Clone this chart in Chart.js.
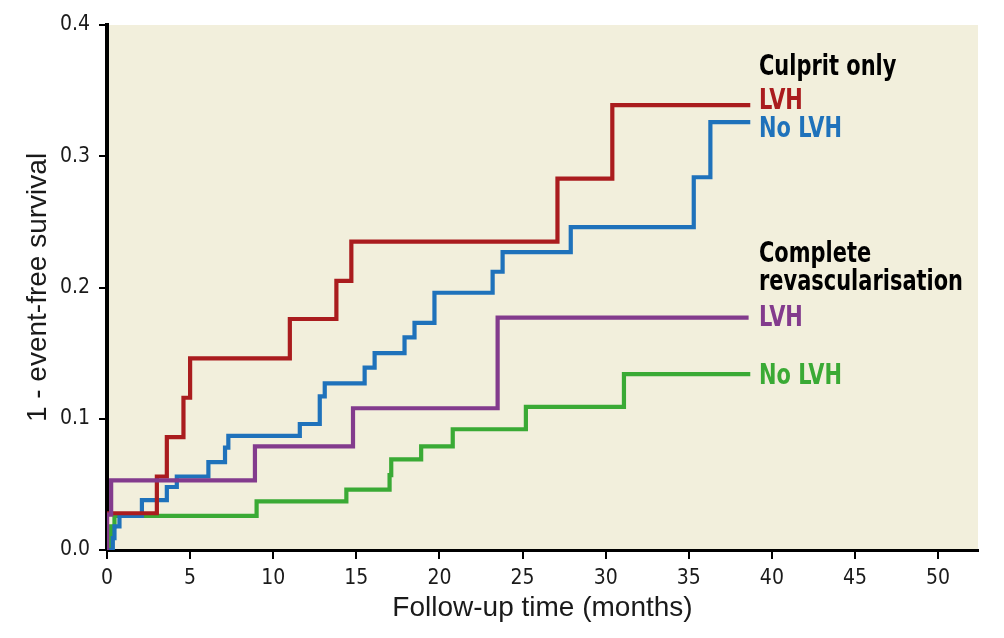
<!DOCTYPE html>
<html>
<head>
<meta charset="utf-8">
<title>1 - event-free survival by LVH and revascularisation strategy</title>
<script src="https://cdn.jsdelivr.net/npm/chart.js@4.4.0/dist/chart.umd.min.js"></script>
<style>
  html, body { margin: 0; padding: 0; background: #fff; }
  #wrap { width: 1004px; height: 638px; position: relative; }
</style>
</head>
<body>
<div id="wrap"><canvas id="kmChart"></canvas></div>
<script>
// Step curves: follow-up time (months) vs 1 - event-free survival.
// Each pair (time, value) is the level reached at that time.

const culpritLvhTime = [0, 0, 3.0, 3.6, 4.6, 5.0, 11.0, 13.8, 14.7, 27.1, 30.4, 38.7];
const culpritLvhRisk = [0, 0.028, 0.056, 0.086, 0.116, 0.146, 0.176, 0.205, 0.235, 0.283, 0.339, 0.339];

const culpritNoLvhTime = [0, 0.35, 0.45, 0.75, 2.1, 3.6, 4.2, 6.1, 7.1, 7.3, 11.6, 12.8, 13.1, 15.5, 16.1, 17.9, 18.5, 19.7, 23.2, 23.8, 27.9, 35.3, 36.3, 38.7];
const culpritNoLvhRisk = [0, 0.009, 0.018, 0.026, 0.038, 0.048, 0.056, 0.067, 0.078, 0.087, 0.096, 0.117, 0.127, 0.139, 0.150, 0.162, 0.173, 0.196, 0.212, 0.227, 0.246, 0.284, 0.326, 0.326];

const completeLvhTime = [0, 0, 0.25, 8.9, 14.8, 23.5, 38.6];
const completeLvhRisk = [0, 0.027, 0.053, 0.079, 0.108, 0.177, 0.177];

const completeNoLvhTime = [0, 0.25, 0.45, 9.0, 14.4, 17.0, 17.1, 18.9, 20.8, 25.2, 31.1, 38.7];
const completeNoLvhRisk = [0, 0.018, 0.026, 0.037, 0.046, 0.057, 0.069, 0.079, 0.092, 0.109, 0.134, 0.134];

const xTickStep = 5;
const xMax = 52.4;
const yTicks = [0, 0.1, 0.2, 0.3, 0.4];

const colors = {
  red: '#aa1c1e',
  blue: '#1f72bb',
  purple: '#833b8d',
  green: '#3aaa35'
};

function toPoints(times, values) {
  return times.map((t, i) => ({ x: t, y: values[i] }));
}

function stepSet(label, times, values, color) {
  return {
    label: label,
    data: toPoints(times, values),
    borderColor: color,
    backgroundColor: color,
    borderWidth: 4.2,
    stepped: 'before',
    pointRadius: 0,
    pointHoverRadius: 0,
    fill: false
  };
}

// beige plot background
const plotBackground = {
  id: 'plotBackground',
  beforeDraw(chart) {
    const { ctx, chartArea } = chart;
    ctx.save();
    ctx.fillStyle = '#f2efdc';
    ctx.fillRect(chartArea.left, chartArea.top, chartArea.right - chartArea.left, chartArea.bottom - chartArea.top);
    ctx.restore();
  }
};

// group headings and curve names to the right of the curves
const sideLabels = [
  { text: 'Culprit only', color: '#000000', y: 75 },
  { text: 'LVH', color: colors.red, y: 109 },
  { text: 'No LVH', color: colors.blue, y: 137 },
  { text: 'Complete', color: '#000000', y: 262 },
  { text: 'revascularisation', color: '#000000', y: 290 },
  { text: 'LVH', color: colors.purple, y: 326 },
  { text: 'No LVH', color: colors.green, y: 384 }
];

const curveLabels = {
  id: 'curveLabels',
  afterDatasetsDraw(chart) {
    const ctx = chart.ctx;
    ctx.save();
    ctx.font = 'bold 28px "DejaVu Sans Condensed", "DejaVu Sans", sans-serif';
    ctx.textAlign = 'left';
    ctx.textBaseline = 'alphabetic';
    // the original uses a condensed face; squeeze horizontally to its width
    const sx = 204 / ctx.measureText('revascularisation').width;
    sideLabels.forEach(l => {
      ctx.save();
      ctx.translate(759, l.y);
      ctx.scale(sx, 1);
      ctx.fillStyle = l.color;
      ctx.fillText(l.text, 0, 0);
      ctx.restore();
    });
    ctx.restore();
  }
};

const tickFont = { family: '"DejaVu Sans Condensed", "DejaVu Sans", sans-serif', size: 21 };
const titleFont = { family: '"Liberation Sans", Arial, sans-serif', size: 28 };

new Chart(document.getElementById('kmChart'), {
  type: 'line',
  data: {
    datasets: [
      stepSet('Complete revascularisation - LVH', completeLvhTime, completeLvhRisk, colors.purple),
      stepSet('Culprit only - LVH', culpritLvhTime, culpritLvhRisk, colors.red),
      stepSet('Culprit only - No LVH', culpritNoLvhTime, culpritNoLvhRisk, colors.blue),
      stepSet('Complete revascularisation - No LVH', completeNoLvhTime, completeNoLvhRisk, colors.green)
    ]
  },
  options: {
    responsive: true,
    maintainAspectRatio: false,
    animation: false,
    layout: { padding: { left: 0, top: 25, right: 26, bottom: 0 } },
    plugins: {
      legend: { display: false },
      tooltip: { enabled: false }
    },
    scales: {
      x: {
        type: 'linear',
        min: 0,
        max: xMax,
        afterFit(scale) { scale.height = 88; },
        afterBuildTicks(scale) {
          const ticks = [];
          for (let v = 0; v <= 50; v += xTickStep) ticks.push({ value: v });
          scale.ticks = ticks;
        },
        ticks: {
          font: tickFont,
          color: '#1a1a1a',
          padding: 7,
          maxRotation: 0,
          callback: v => String(v)
        },
        grid: { display: true, drawOnChartArea: false, drawTicks: true, tickLength: 9, color: '#000', lineWidth: 2 },
        border: { display: true, color: '#000', width: 3 },
        title: {
          display: true,
          text: 'Follow-up time (months)',
          font: titleFont,
          color: '#1a1a1a',
          padding: { top: 0, bottom: 13 }
        }
      },
      y: {
        type: 'linear',
        min: 0,
        max: 0.4,
        afterFit(scale) { scale.width = 107; },
        afterBuildTicks(scale) { scale.ticks = yTicks.map(v => ({ value: v })); },
        ticks: {
          font: tickFont,
          color: '#1a1a1a',
          padding: 9,
          callback: v => v.toFixed(1)
        },
        grid: { display: true, drawOnChartArea: false, drawTicks: true, tickLength: 8, color: '#000', lineWidth: 2 },
        border: { display: true, color: '#000', width: 4 },
        title: {
          display: true,
          text: '1 - event-free survival',
          font: titleFont,
          color: '#1a1a1a',
          padding: { top: 21, bottom: 0 }
        }
      }
    }
  },
  plugins: [plotBackground, curveLabels]
});
</script>
</body>
</html>
